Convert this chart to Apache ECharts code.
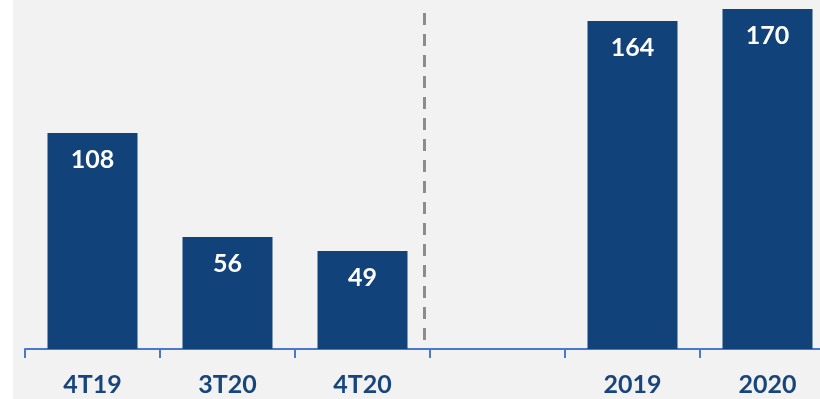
<!DOCTYPE html>
<html><head><meta charset="utf-8">
<script src="https://cdn.jsdelivr.net/npm/echarts@6/dist/echarts.min.js"></script>
<style>html,body{margin:0;padding:0;background:#fff;overflow:hidden;width:820px;height:399px}#c{width:835px;height:399px}</style>
</head><body><div id="c"></div>
<script>
var categories = ['4T19', '3T20', '4T20', '', '2019', '2020'];
var values = [108, 56, 49, null, 164, 170];
var dividerPosition = 2.46;

var chart = echarts.init(document.getElementById('c'));
chart.setOption({
  animation: false,
  backgroundColor: '#ffffff',
  graphic: [{ type: 'rect', z: -10, left: 13, top: 0, shape: { width: 822, height: 399 }, style: { fill: '#F2F2F2' } }],
  grid: { left: 25, right: 0, top: 9, bottom: 50 },
  xAxis: [{
    type: 'category', data: categories,
    axisLine: { lineStyle: { color: '#4A78CC', width: 2 } },
    axisTick: { show: true, length: 9, lineStyle: { color: '#4A78CC', width: 2 } },
    axisLabel: { color: '#17457C', fontFamily: 'Lato', fontWeight: 'bold', fontSize: 25, margin: 23 }
  }, {
    type: 'value', min: -0.5, max: 5.5, show: false
  }],
  yAxis: { type: 'value', min: 0, max: 170, show: false, splitLine: { show: false } },
  series: [{
    type: 'bar', data: values, barWidth: 90, xAxisIndex: 0,
    itemStyle: { color: '#114279' },
    label: { show: true, position: 'insideTop', distance: 14, color: '#fff', fontFamily: 'Lato', fontWeight: 'bold', fontSize: 25 }
  }, {
    type: 'line', xAxisIndex: 1, data: [],
    markLine: {
      silent: true, symbol: 'none', label: { show: false },
      lineStyle: { color: '#8C8C8C', width: 3, type: [12, 9] },
      data: [[{ coord: [dividerPosition, 170], y: 13 }, { coord: [dividerPosition, 0] }]]
    }
  }]
});
</script></body></html>
